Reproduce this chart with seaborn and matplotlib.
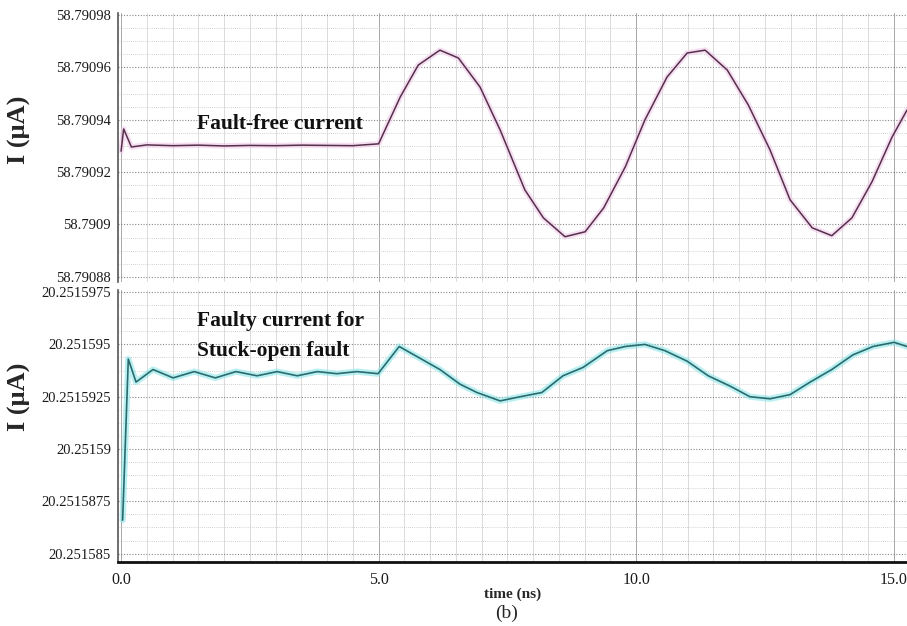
import numpy as np
import pandas as pd
import matplotlib
matplotlib.use("Agg")
import matplotlib.pyplot as plt
from matplotlib.ticker import MultipleLocator, FixedLocator, FixedFormatter
import seaborn as sns

# ---------------- data ----------------
t_free = [0.0, 0.05, 0.2, 0.5, 1.0, 1.5, 2.0, 2.5, 3.0, 3.5, 4.0, 4.5, 5.0,
          5.42, 5.77, 6.19, 6.55, 6.97, 7.36, 7.84, 8.2, 8.62, 9.01, 9.37,
          9.79, 10.17, 10.6, 10.99, 11.34, 11.77, 12.18, 12.6, 12.99, 13.42,
          13.8, 14.19, 14.58, 14.97, 15.26]
i_free = [58.7909280, 58.7909365, 58.7909296, 58.7909304, 58.7909301,
          58.7909303, 58.7909300, 58.7909302, 58.7909301, 58.7909303,
          58.7909302, 58.7909301, 58.7909308,
          58.7909487, 58.7909609, 58.7909666, 58.7909636, 58.7909525,
          58.7909361, 58.7909132, 58.7909025, 58.7908953, 58.7908972,
          58.7909063, 58.7909220, 58.7909399, 58.7909563, 58.7909655,
          58.7909666, 58.7909590, 58.7909456, 58.7909285, 58.7909094,
          58.7908987, 58.7908957, 58.7909025, 58.7909163, 58.7909334,
          58.7909437]

t_faulty = [0.03, 0.14, 0.29, 0.62, 1.01, 1.42, 1.83, 2.23, 2.64, 3.03, 3.42,
            3.81, 4.19, 4.58, 4.99, 5.4, 6.19, 6.58, 6.91, 7.36, 7.75, 8.17,
            8.58, 8.97, 9.44, 9.79, 10.17, 10.56, 10.99, 11.4, 11.83, 12.21,
            12.6, 12.99, 13.38, 13.8, 14.21, 14.6, 15.01, 15.26]
i_faulty = [20.2515866, 20.2515943, 20.2515932, 20.2515938, 20.2515934,
            20.2515937, 20.2515934, 20.2515937, 20.2515935, 20.2515937,
            20.2515935, 20.2515937, 20.2515936, 20.2515937, 20.2515936,
            20.2515949, 20.2515938, 20.2515931, 20.2515927, 20.2515923,
            20.2515925, 20.2515927, 20.2515935, 20.2515939, 20.2515947,
            20.2515949, 20.2515950, 20.2515947, 20.2515942, 20.2515935,
            20.2515930, 20.2515925, 20.2515924, 20.2515926, 20.2515932,
            20.2515938, 20.2515945, 20.2515949, 20.2515951, 20.2515949]

top_ticks = [58.79088, 58.7909, 58.79092, 58.79094, 58.79096, 58.79098]
top_labels = ["58.79088", "58.7909", "58.79092", "58.79094", "58.79096", "58.79098"]
bot_ticks = [20.251585, 20.2515875, 20.25159, 20.2515925, 20.251595, 20.2515975]
bot_labels = ["20.251585", "20.2515875", "20.25159", "20.2515925", "20.251595", "20.2515975"]
x_ticks = [0.0, 5.0, 10.0, 15.0]
x_labels = ["0.0", "5.0", "10.0", "15.0"]

df_free = pd.DataFrame({"time": t_free, "I": i_free})
df_faulty = pd.DataFrame({"time": t_faulty, "I": i_faulty})

# ---------------- style ----------------
sns.set_style("white")
plt.rcParams["font.family"] = ["Liberation Serif", "DejaVu Serif"]

W, H = 907, 626
fig = plt.figure(figsize=(W / 100, H / 100), dpi=100)

def fr(x0, y0, x1, y1):
    return [x0 / W, 1 - y1 / H, (x1 - x0) / W, (y1 - y0) / H]

ax1 = fig.add_axes(fr(118, 13, 907, 282))
ax2 = fig.add_axes(fr(118, 290, 907, 562))

xlim = (-0.06, 15.26)

def style_axes(ax, ticks, labels, ylim, minor_step, label_y):
    ax.set_xlim(*xlim)
    ax.set_ylim(*ylim)
    ax.yaxis.set_major_locator(FixedLocator(ticks))
    ax.yaxis.set_major_formatter(FixedFormatter(labels))
    ax.yaxis.set_minor_locator(MultipleLocator(minor_step))
    ax.xaxis.set_major_locator(FixedLocator(x_ticks))
    ax.xaxis.set_minor_locator(MultipleLocator(0.5))
    ax.grid(which="major", axis="y", color="#8a8a8a", ls=(0, (1, 1.5)), lw=0.8)
    ax.grid(which="minor", axis="y", color="#c4c4c4", ls=(0, (1, 1.5)), lw=0.6)
    ax.grid(which="major", axis="x", color="#a8a8a8", ls="-", lw=0.7)
    ax.grid(which="minor", axis="x", color="#d6d6d6", ls="-", lw=0.6)
    ax.set_axisbelow(True)
    for s in ["top", "right"]:
        ax.spines[s].set_visible(False)
    ax.spines["left"].set_color("#555555")
    ax.spines["left"].set_linewidth(1.2)
    ax.tick_params(axis="y", which="major", direction="out", length=4,
                   width=1.0, color="#555555", labelsize=10.5, pad=1,
                   labelcolor="#1a1a1a")
    ax.tick_params(axis="y", which="minor", length=0)
    ax.tick_params(axis="x", which="minor", length=0)
    ax.set_ylabel("I (μA)", fontsize=19, fontweight="bold")
    ax.yaxis.set_label_coords((31 - 118) / 789, label_y)

# top panel
sns.lineplot(data=df_free, x="time", y="I", ax=ax1, color="#f0c8ec", lw=4,
             alpha=0.6, estimator=None, sort=False)
sns.lineplot(data=df_free, x="time", y="I", ax=ax1, color="#553049", lw=1.1,
             estimator=None, sort=False)
style_axes(ax1, top_ticks, top_labels, (58.790878, 58.7909808), 0.000005,
           (282 - 130) / 269)
ax1.spines["bottom"].set_visible(False)
ax1.tick_params(axis="x", which="major", length=0, labelbottom=False)
ax1.set_xlabel("")
ax1.text(1.48, 58.7909382, "Fault-free current", fontsize=15.5,
         fontweight="bold", va="center", ha="left", color="#111111")

# bottom panel
sns.lineplot(data=df_faulty, x="time", y="I", ax=ax2, color="#8ce6ea", lw=4.5,
             alpha=0.6, estimator=None, sort=False)
sns.lineplot(data=df_faulty, x="time", y="I", ax=ax2, color="#2a6b6e", lw=1.2,
             estimator=None, sort=False)
style_axes(ax2, bot_ticks, bot_labels, (20.2515846, 20.2515976), 0.000000625,
           (562 - 397) / 272)
ax2.spines["bottom"].set_color("#111111")
ax2.spines["bottom"].set_linewidth(2.0)
ax2.xaxis.set_major_formatter(FixedFormatter(x_labels))
ax2.tick_params(axis="x", which="major", length=0, labelsize=11.5, pad=7,
                labelcolor="#1a1a1a")
ax2.set_xlabel("time (ns)", fontsize=11, fontweight="bold", labelpad=0)
ax2.text(1.48, 20.2515954, "Faulty current for\nStuck-open fault",
         fontsize=15.5, fontweight="bold", va="center", ha="left",
         color="#111111", linespacing=1.65)

fig.text(507 / W, 1 - 613 / H, "(b)", fontsize=14, ha="center", va="center")

fig.savefig("out.png", dpi=100, facecolor="white")
